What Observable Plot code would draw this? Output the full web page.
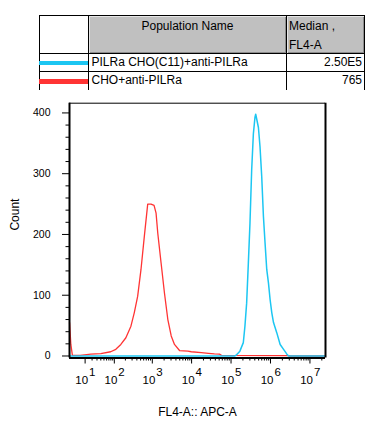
<!DOCTYPE html>
<html><head><meta charset="utf-8">
<script src="https://cdn.jsdelivr.net/npm/d3@7"></script>
<script src="https://cdn.jsdelivr.net/npm/@observablehq/plot@0.6"></script>
<style>
body{margin:0;background:#fff;font-family:"Liberation Sans",Arial,sans-serif;color:#000;}
#wrap{position:relative;width:381px;height:439px;overflow:hidden;background:#fff;}
#legend{position:absolute;left:39px;top:15px;width:326px;height:76px;font-size:12px;}
#legend div{position:absolute;box-sizing:border-box;}
#chart{position:absolute;left:0;top:90px;}
</style></head>
<body>
<div id="wrap"><div id="legend"></div><div id="chart"></div></div>
<script>
// ---- data ----
const seriesNames = ["PILRa CHO(C11)+anti-PILRa", "CHO+anti-PILRa"];
const seriesMedians = ["2.50E5", "765"];
const seriesColors = ["#1cc6f2", "#ff3434"];
const headerNames = ["Population Name", "Median ,", "FL4-A"];

// FL4-A values (x) and counts — PILRa CHO(C11)+anti-PILRa
const cyanX = [-2.44, 122750, 138030, 167700, 204700, 224900, 248550, 274700, 301800, 333500, 368500, 404800, 421700, 447200, 494300, 543000, 599800, 663000, 728200, 804800, 889200, 977000, 1079600, 1193000, 1448000, 1758000, 2146000, 2605000, 2878000, 2.48e7];
const cyanCount = [0, 0, 2, 8, 22, 49, 87, 153, 218, 306, 366, 393, 398, 390, 376, 344, 295, 229, 186, 142, 120, 93, 71, 55, 38, 19, 11, 3, 0, 0];

// CHO+anti-PILRa
const redX = [-2.4, -1.5, -0.5, 5, 18, 40, 79, 110, 151, 206, 280, 342, 419, 511, 622, 762, 928, 1108, 1248, 1380, 1676, 2038, 2490, 3034, 3674, 4934, 8082, 9810, 17670, 26670, 37930, 50890, 57230, 2.9e6, 3.2e6, 2.48e7];
const redCount = [55, 19, 1, 1, 3, 4, 7, 11, 19, 30, 49, 71, 98, 142, 196, 250, 250, 248, 235, 202, 153, 104, 60, 33, 19, 9, 8, 7, 5.5, 4.4, 3.5, 3, 1, 0.7, 0, 0];

const xDomain = [-2.44, 2.48e7];
const yDomain = [-3.3, 416];
const xMajor = [10, 100, 1e3, 1e4, 1e5, 1e6, 1e7];
const xBase = ["10", "10", "10", "10", "10", "10", "10"];
const xExp = ["1", "2", "3", "4", "5", "6", "7"];
const xMultipliers = [2, 3, 4, 5, 6, 7, 8, 9];
const yMajor = [0, 100, 200, 300, 400];
const yMinor = [20, 40, 60, 80, 120, 140, 160, 180, 220, 240, 260, 280, 320, 340, 360, 380];
const xLabel = "FL4-A:: APC-A";
const yLabel = "Count";

// ---- legend table ----
const L = document.getElementById("legend");
function box(css, html) { const d = document.createElement("div"); d.style.cssText = css; if (html != null) d.innerHTML = html; L.appendChild(d); return d; }
box("left:0;top:0;width:326px;height:76px;border:1px solid #000;");
box("left:50px;top:1px;width:197px;height:37px;background:#c0c0c0;box-shadow:inset 1px 1px #e6e6e6, inset -1px -1px #8c8c8c;");
box("left:248px;top:1px;width:77px;height:37px;background:#c0c0c0;box-shadow:inset 1px 1px #e6e6e6, inset -1px -1px #8c8c8c;");
box("left:49px;top:0;width:1px;height:76px;background:#000;");
box("left:247px;top:0;width:1px;height:76px;background:#000;");
box("left:0;top:38px;width:326px;height:1px;background:#000;");
box("left:0;top:56px;width:326px;height:1px;background:#000;");
box("left:50px;top:2px;width:197px;line-height:18px;text-align:center;", headerNames[0]);
box("left:250px;top:2px;width:75px;line-height:18.5px;", headerNames[1] + "<br>" + headerNames[2]);
const rowTops = [39, 57];
seriesNames.forEach((n, i) => {
  box(`left:0;top:${rowTops[i] + 6.5 + i * 0.5}px;width:49px;height:4.6px;background:${seriesColors[i]};`);
  box(`left:52.5px;top:${rowTops[i]}px;line-height:17.5px;white-space:nowrap;`, n);
  box(`left:250px;top:${rowTops[i]}px;width:73px;line-height:17.5px;text-align:right;`, seriesMedians[i]);
});

// ---- chart ----
const cyan = cyanX.map((x, i) => ({x, count: cyanCount[i]}));
const red = redX.map((x, i) => ({x, count: redCount[i]}));
const xMinor = xMajor.flatMap(d => xMultipliers.map(m => m * d)).filter(v => v <= xDomain[1]);
const xLabels = xMajor.map((v, i) => ({v, base: xBase[i], exp: xExp[i]}));
const font = "Liberation Sans, Arial, sans-serif";

const chart = Plot.plot({
  width: 381, height: 349,
  marginLeft: 69, marginRight: 56, marginTop: 12.7, marginBottom: 81.5,
  style: {fontFamily: font, background: "#fff", color: "#000", overflow: "visible"},
  x: {type: "symlog", constant: 10, domain: xDomain},
  y: {domain: yDomain},
  marks: [
    Plot.line(red, {x: "x", y: "count", stroke: seriesColors[1], strokeWidth: 1.3}),
    Plot.line(cyan, {x: "x", y: "count", stroke: seriesColors[0], strokeWidth: 1.5}),
    Plot.ruleY([yDomain[1]], {stroke: "#000", strokeWidth: 1}),
    Plot.ruleX([xDomain[1]], {stroke: "#000", strokeWidth: 2}),
    Plot.ruleX([xDomain[0]], {stroke: "#000", strokeWidth: 2}),
    Plot.ruleY([yDomain[0]], {stroke: "#000", strokeWidth: 2}),
    Plot.axisY(yMajor, {tickSize: 7, tickPadding: 12, fontSize: 10.5, label: null}),
    Plot.axisY(yMinor, {tickSize: 3.5, tickFormat: () => "", label: null}),
    Plot.axisX(xMajor, {tickSize: 6, tickFormat: () => "", label: null}),
    Plot.axisX(xMinor, {tickSize: 3, tickFormat: () => "", label: null}),
    Plot.text(xLabels, {x: "v", text: "base", frameAnchor: "bottom", lineAnchor: "bottom", dy: 26, dx: 3, textAnchor: "end", fontSize: 11.5}),
    Plot.text(xLabels, {x: "v", text: "exp", frameAnchor: "bottom", lineAnchor: "bottom", dy: 18, dx: 4, textAnchor: "start", fontSize: 11.5}),
    Plot.text([yLabel], {text: d => d, frameAnchor: "left", dx: -54, rotate: -90, fontSize: 12}),
    Plot.text([xLabel], {text: d => d, frameAnchor: "bottom", dy: 58, fontSize: 12})
  ]
});
document.getElementById("chart").appendChild(chart);
</script>
</body></html>
